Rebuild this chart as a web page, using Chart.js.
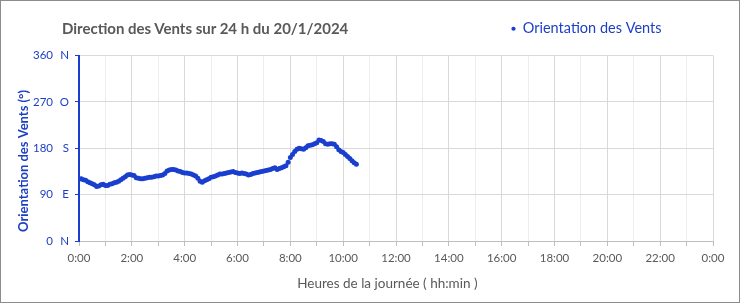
<!DOCTYPE html>
<html><head><meta charset="utf-8">
<script src="https://cdn.jsdelivr.net/npm/chart.js@4"></script>
<style>
html,body{margin:0;padding:0;background:#fff;}
#wrap{position:relative;width:740px;height:303px;overflow:hidden;}
#c{position:absolute;left:0;top:0;}
#title{position:absolute;left:62px;top:18px;font:bold 15px Lato, sans-serif;color:#595959;white-space:nowrap;line-height:20px;}
#frame{position:absolute;left:0;top:0;width:740px;height:303px;box-sizing:border-box;border:1px solid #8c8c8c;pointer-events:none;}
</style></head>
<body>
<div id="wrap">
<canvas id="c" width="740" height="303"></canvas>
<div id="title"></div>
<div id="frame"></div>
</div>
<script>
const chartTitle = "Direction des Vents sur 24 h du 20/1/2024";
const seriesName = "Orientation des Vents";
const xAxisTitle = "Heures de la journée ( hh:min )";
const yAxisTitle = "Orientation des Vents (°)";

const times = [
"0:00","0:05","0:10","0:15","0:20","0:25","0:30","0:35","0:40","0:45","0:50","0:55",
"1:00","1:05","1:10","1:15","1:20","1:25","1:30","1:35","1:40","1:45","1:50","1:55",
"2:00","2:05","2:10","2:15","2:20","2:25","2:30","2:35","2:40","2:45","2:50","2:55",
"3:00","3:05","3:10","3:15","3:20","3:25","3:30","3:35","3:40","3:45","3:50","3:55",
"4:00","4:05","4:10","4:15","4:20","4:25","4:30","4:35","4:40","4:45","4:50","4:55",
"5:00","5:05","5:10","5:15","5:20","5:25","5:30","5:35","5:40","5:45","5:50","5:55",
"6:00","6:05","6:10","6:15","6:20","6:25","6:30","6:35","6:40","6:45","6:50","6:55",
"7:00","7:05","7:10","7:15","7:20","7:25","7:30","7:35","7:40","7:45","7:50","7:55",
"8:00","8:05","8:10","8:15","8:20","8:25","8:30","8:35","8:40","8:45","8:50","8:55",
"9:00","9:05","9:10","9:15","9:20","9:25","9:30","9:35","9:40","9:45","9:50","9:55",
"10:00","10:05","10:10","10:15","10:20","10:25","10:30"
];

const directions = [
120,121,119,118,115,113,111,109,106,107,109,110,
108,108,110,111,113,114,116,119,122,125,128,129,
128,127,123,122,121,121,122,123,124,124,125,126,
126,127,128,131,136,138,139,139,138,136,135,133,
132,132,131,130,128,126,122,116,114,117,119,121,
124,125,126,128,130,130,131,132,133,134,135,133,
132,131,132,131,130,128,129,131,132,133,134,135,
136,137,138,139,141,142,139,141,142,144,146,153,
162,168,174,178,180,179,178,181,185,186,187,189,
191,196,195,193,189,188,189,189,188,183,177,174,
172,168,164,160,156,152,149
];

const yTickValues = [0, 90, 180, 270, 360];
const compassLabels = ["N", "E", "S", "O", "N"];
const xTickLabels = ["0:00","2:00","4:00","6:00","8:00","10:00","12:00","14:00","16:00","18:00","20:00","22:00","0:00"];
const xHourTicks = [0,60,120,180,240,300,360,420,480,540,600,660,720,780,840,900,960,1020,1080,1140,1200,1260,1320,1380,1440];

document.getElementById('title').textContent = chartTitle;

const BLUE = '#1a3fcf';
const TXT_BLUE = '#1c3fc4';
const GREY = '#595959';

function toMinutes(t){ const p = t.split(':'); return (+p[0])*60 + (+p[1]); }

const legendShift = {
  id: 'legendShift',
  afterLayout(chart){ const lg = chart.legend; if (lg) { lg.right -= 32; } }
};

new Chart(document.getElementById('c'), {
  type: 'scatter',
  data: {
    datasets: [{
      label: seriesName,
      data: times.map((t, i) => ({x: toMinutes(t), y: directions[i]})),
      showLine: false,
      pointRadius: 2.5,
      pointBorderWidth: 0,
      borderWidth: 0,
      pointStyle: 'circle',
      backgroundColor: BLUE,
      borderColor: BLUE,
      xAxisID: 'x',
      yAxisID: 'y'
    }]
  },
  options: {
    responsive: false,
    animation: false,
    devicePixelRatio: 1,
    layout: {padding: {left: 12, right: 27, top: 2, bottom: 8}},
    plugins: {
      legend: {
        position: 'top', align: 'end',
        labels: {
          usePointStyle: true, pointStyle: 'circle', boxWidth: 4, boxHeight: 3,
          padding: 19.5, color: TXT_BLUE, font: {family: 'Lato', size: 14.5}
        }
      },
      subtitle: {
        display: true, text: '', position: 'top', weight: 500,
        font: {size: 8}, padding: {top: 0, bottom: 0}
      },
      tooltip: {enabled: false}
    },
    scales: {
      x: {
        type: 'linear', position: 'bottom', min: 0, max: 1440,
        afterBuildTicks: s => { s.ticks = xHourTicks.map(v => ({value: v})); },
        ticks: {
          autoSkip: false, maxRotation: 0, minRotation: 0, padding: 5,
          color: GREY, font: {family: 'Lato', size: 11.5},
          callback: (v, i) => (i % 2 === 0 ? xTickLabels[i / 2] : '')
        },
        grid: {
          color: ctx => (ctx.index % 2 === 0 ? '#d9d9d9' : '#ededed'),
          tickColor: '#bfbfbf', tickLength: 5, lineWidth: 1
        },
        border: {color: '#bfbfbf', width: 1},
        title: {display: true, text: xAxisTitle + '     ', color: GREY, font: {family: 'Lato', size: 13.5}, padding: {top: 0, bottom: 3}},
        afterFit: s => { s.height = 54; }
      },
      y: {
        type: 'linear', position: 'left', weight: 0, min: 0, max: 360,
        afterBuildTicks: s => { s.ticks = yTickValues.map(v => ({value: v})); },
        ticks: {color: TXT_BLUE, font: {family: 'Lato', size: 11.5}, padding: 6, callback: (v, i) => compassLabels[i]},
        grid: {color: '#d9d9d9', tickColor: BLUE, tickLength: 4, lineWidth: 1},
        border: {color: BLUE, width: 2},
        afterFit: s => { s.width = 19; }
      },
      y2: {
        type: 'linear', position: 'left', weight: 1, min: 0, max: 360,
        afterBuildTicks: s => { s.ticks = yTickValues.map(v => ({value: v})); },
        ticks: {color: TXT_BLUE, font: {family: 'Lato', size: 11.5}, padding: 7, callback: (v, i) => String(yTickValues[i])},
        grid: {display: false, drawTicks: false, drawOnChartArea: false},
        border: {display: false},
        title: {display: true, text: yAxisTitle + '        ', color: TXT_BLUE, font: {family: 'Lato', size: 13, weight: 'bold'}, padding: {top: 4, bottom: 4}},
        afterFit: s => { s.width = 48; }
      }
    }
  },
  plugins: [legendShift]
});
</script>
</body></html>
